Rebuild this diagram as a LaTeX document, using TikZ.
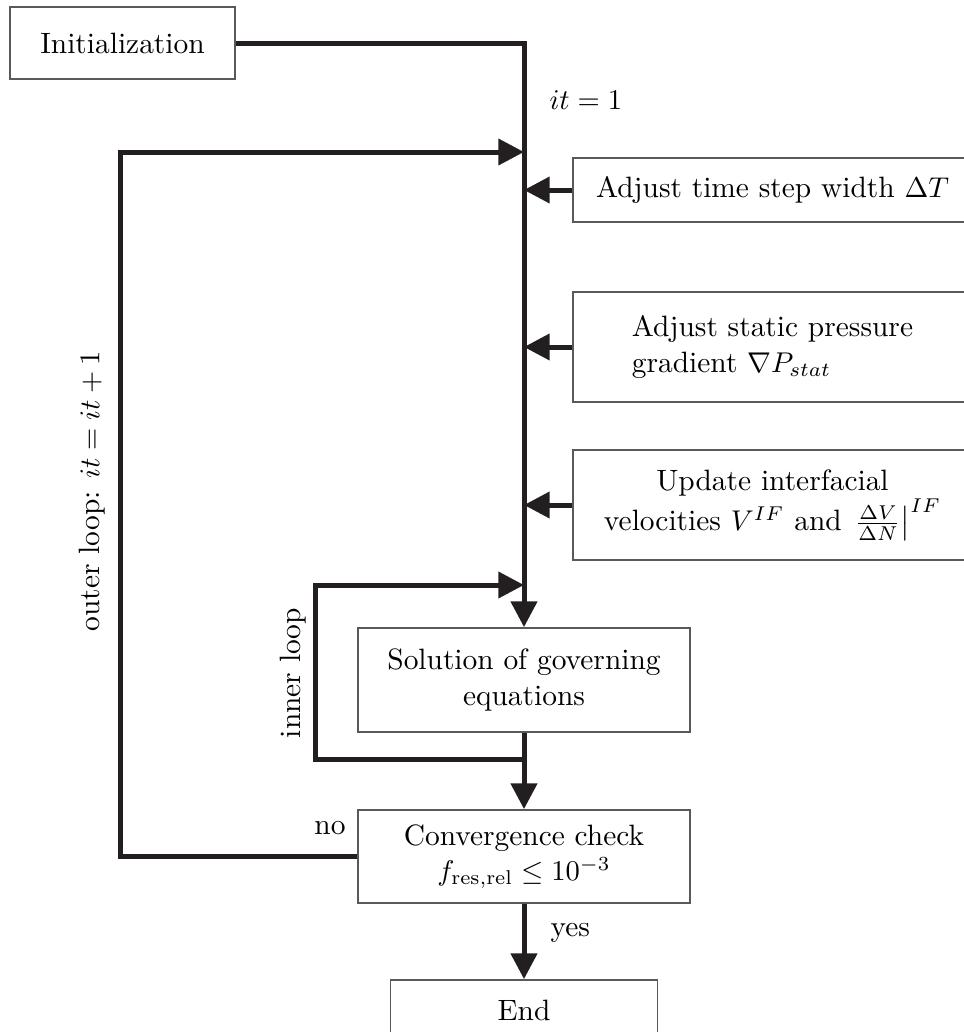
\documentclass[tikz,border=0pt]{standalone}
\usetikzlibrary{arrows.meta}
\definecolor{ink}{RGB}{35,31,32}
\begin{document}
\begin{tikzpicture}[x=0.35pt,y=-0.35pt,
  txt/.style={font=\fontsize{10.3}{12.3}\selectfont},
  box/.style={draw=black!65,line width=0.6pt,rectangle,inner sep=0pt,align=center,txt},
  flow/.style={draw=ink,line width=1.75pt},
  tip/.style={-{Triangle[length=9pt,width=9pt]}},
  lbl/.style={inner sep=0pt,txt}]
\useasboundingbox (0,0) rectangle (963,1032);

% process boxes
\node[box,minimum width=225*0.35pt,minimum height=72*0.35pt] (init) at (122.5,43) {Initialization};
\node[box,minimum width=399*0.35pt,minimum height=64*0.35pt] (dt) at (772.5,190) {Adjust time step width $\Delta T$};
\node[box,minimum width=399*0.35pt,minimum height=110*0.35pt,align=left] (dp) at (772.5,347) {Adjust static pressure\\gradient $\nabla P_{stat}$};
\node[box,minimum width=399*0.35pt,minimum height=110*0.35pt] (vif) at (772.5,505) {Update interfacial\\velocities $V^{IF}$ and $\left.\frac{\Delta V}{\Delta N}\right|^{IF}$};
\node[box,minimum width=332*0.35pt,minimum height=104*0.35pt] (sol) at (524,680) {Solution of governing\\equations};
\node[box,minimum width=332*0.35pt,minimum height=93*0.35pt] (conv) at (524,856.5) {Convergence check\\$f_{\mathrm{res,rel}} \leq 10^{-3}$};
\node[box,minimum width=267*0.35pt,minimum height=60*0.35pt] (end) at (524,1010) {End};

% corner points of the loops
\coordinate (outerL) at (120,152);
\coordinate (outerT) at (524,152);
\coordinate (innerB) at (524,759);
\coordinate (innerL) at (315,585);
\coordinate (innerT) at (524,585);

% main flow
\draw[flow,tip] (init.east) -| (sol.north);
\draw[flow,tip] (sol.south) -- (conv.north);
\draw[flow,tip] (conv.south) -- (end.north);

% inputs from the side boxes
\draw[flow,tip] (dt.west) -- (dt.west -| sol.north);
\draw[flow,tip] (dp.west) -- (dp.west -| sol.north);
\draw[flow,tip] (vif.west) -- (vif.west -| sol.north);

% outer and inner loops
\draw[flow,tip] (conv.west) -| (outerL) -- (outerT);
\draw[flow,tip] (innerB) -| (innerL) -- (innerT);

% labels
\node[lbl,anchor=west] (itone) at (549,100) {$it = 1$};
\node[lbl,rotate=90] (outerlbl) at (92,491) {outer loop: $it = it + 1$};
\node[lbl,rotate=90] (innerlbl) at (293,673) {inner loop};
\node[lbl] (nolbl) at (330,828) {no};
\node[lbl,anchor=west] (yeslbl) at (550,933) {yes};
\end{tikzpicture}
\end{document}
